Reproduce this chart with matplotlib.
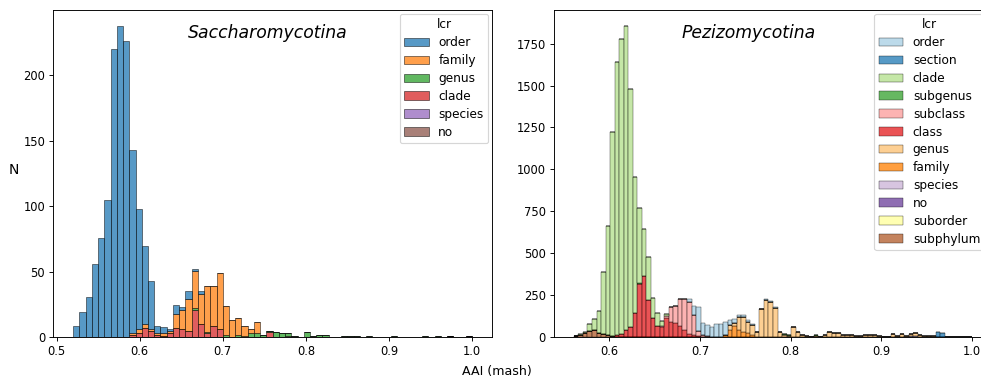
import matplotlib.pyplot as plt
import matplotlib.transforms as mtransforms
from matplotlib.patches import Patch
import numpy as np

# ---- Saccharomycotina: 64 bins, 0.52 .. 1.0  (counts per bin index) ----
sacch_edges = np.linspace(0.52, 1.0, 65)
sacch_levels = ["order", "family", "genus", "clade", "species", "no"]
sacch_colors = ["#1f77b4", "#ff7f0e", "#2ca02c", "#d62728", "#9467bd", "#8c564b"]
sacch_order = {0: 9, 1: 19, 2: 31, 3: 56, 4: 76, 5: 105, 6: 220, 7: 238, 8: 226,
               9: 140, 10: 92, 11: 60, 12: 37, 13: 6, 14: 5, 15: 1, 16: 7, 17: 2,
               18: 6, 19: 1, 20: 2}
sacch_family = {9: 1, 10: 3, 11: 3, 12: 1, 13: 1, 14: 2, 15: 2, 16: 11, 17: 15,
                18: 24, 19: 29, 20: 23, 21: 35, 22: 30, 23: 43, 24: 22, 25: 13,
                26: 13, 27: 8, 28: 3, 29: 9}
sacch_genus = {19: 1, 21: 1, 24: 2, 26: 2, 27: 1, 28: 3, 29: 3, 30: 2, 31: 1,
               32: 4, 33: 3, 34: 2, 35: 1, 37: 4, 38: 1, 39: 2, 40: 2, 43: 1,
               44: 1, 45: 1, 47: 1, 51: 1, 56: 1, 58: 1}
sacch_clade = {9: 2, 10: 3, 11: 7, 12: 5, 13: 2, 14: 1, 15: 3, 16: 7, 17: 6,
               18: 5, 19: 21, 20: 10, 21: 3, 22: 9, 23: 6, 31: 4, 34: 1}
sacch_species = {63: 1}
sacch_no = {60: 1}

# ---- Pezizomycotina: 88 bins, 0.561 .. 1.0 ----
pezi_edges = np.linspace(0.561, 1.0, 89)
pezi_levels = ["order", "section", "clade", "subgenus", "subclass", "class",
               "genus", "family", "species", "no", "suborder", "subphylum"]
pezi_colors = ["#a6cee3", "#1f78b4", "#b2df8a", "#33a02c", "#fb9a99", "#e31a1c",
               "#fdbf6f", "#ff7f00", "#cab2d6", "#6a3d9a", "#ffff99", "#b15928"]
pezi_order = {25: 16, 26: 54, 27: 143, 28: 69, 29: 66, 30: 60, 31: 80, 32: 80,
              33: 79, 34: 29, 35: 24, 36: 14, 37: 14, 38: 10, 39: 5, 40: 2,
              42: 4, 43: 6, 44: 3, 82: 4, 83: 4}
pezi_section = {80: 30, 81: 22}
pezi_clade = {1: 4, 2: 6, 3: 41, 4: 65, 5: 131, 6: 371, 7: 651, 8: 1215,
              9: 1624, 10: 1755, 11: 1813, 12: 1416, 13: 810, 14: 446, 15: 282,
              16: 259, 17: 119, 18: 75, 19: 29, 20: 10, 21: 5, 22: 2}
pezi_subgenus = {14: 5, 45: 4, 46: 4, 47: 6, 48: 4, 53: 4}
pezi_subclass = {19: 2, 20: 16, 21: 89, 22: 102, 23: 161, 24: 185, 25: 194,
                 26: 119, 27: 32, 28: 10, 29: 5, 30: 2}
pezi_class = {8: 2, 9: 14, 10: 20, 11: 44, 12: 64, 13: 147, 14: 318, 15: 365,
              16: 222, 17: 117, 18: 70, 19: 64, 20: 113, 21: 89, 22: 83, 23: 68,
              24: 44, 25: 18, 26: 14, 27: 8, 28: 4, 29: 2}
pezi_genus = {34: 30, 35: 15, 36: 75, 37: 85, 38: 69, 39: 58, 40: 28, 41: 165,
              42: 222, 43: 210, 44: 176, 45: 30, 46: 14, 47: 8, 48: 60, 49: 30,
              50: 16, 51: 8, 52: 4, 53: 8, 54: 4, 55: 14, 56: 34, 57: 28, 58: 28,
              59: 16, 60: 14, 61: 14, 62: 6, 63: 6, 64: 16, 65: 16, 66: 16, 67: 6,
              68: 4, 69: 4, 70: 18, 71: 6, 72: 18, 73: 4, 74: 10, 75: 16, 76: 12,
              77: 8, 78: 6, 79: 8, 80: 4, 81: 2}
pezi_family = {32: 2, 33: 14, 34: 44, 35: 68, 36: 44, 37: 34, 38: 24, 39: 14,
               40: 4, 41: 2, 42: 2}
pezi_species = {74: 10, 75: 8, 87: 1}
pezi_no = {73: 2}
pezi_suborder = {70: 1}
pezi_subphylum = {0: 8, 1: 14, 2: 24, 3: 38, 4: 42, 5: 28, 6: 20, 7: 14, 8: 6}

sacch_counts = [sacch_order, sacch_family, sacch_genus, sacch_clade,
                sacch_species, sacch_no]
pezi_counts = [pezi_order, pezi_section, pezi_clade, pezi_subgenus,
               pezi_subclass, pezi_class, pezi_genus, pezi_family,
               pezi_species, pezi_no, pezi_suborder, pezi_subphylum]


def expand(counts, n):
    arr = np.zeros(n)
    for i, c in counts.items():
        arr[i] = c
    return arr


def stacked_hist(ax, edges, levels, counts, colors, lw, title, leg_kw):
    n = len(edges) - 1
    widths = np.diff(edges)
    bottom = np.zeros(n)
    # first hue level ends up on top of the stack
    for cnt, col in zip(counts[::-1], colors[::-1]):
        h = expand(cnt, n)
        ax.bar(edges[:-1], h, width=widths, bottom=bottom, align="edge",
               color=col, alpha=0.75, edgecolor="black", linewidth=lw)
        bottom += h
    ax.set_ylim(0, bottom.max() * 1.05)
    handles = [Patch(facecolor=c, edgecolor="black", alpha=0.75, linewidth=lw)
               for c in colors]
    ax.legend(handles, levels, title="lcr", fontsize=10.5, title_fontsize=10.5,
              labelspacing=0.4, borderaxespad=0.3, **leg_kw)
    trans = mtransforms.blended_transform_factory(ax.transData, ax.transAxes)
    ax.text(0.754, 0.93, title, transform=trans, style="italic",
            ha="center", va="center", fontsize=15)


fig = plt.figure(figsize=(981 / 83, 381 / 83), dpi=83)
ax1 = fig.add_axes([0.0543, 0.1147, 0.4472, 0.859])
ax2 = fig.add_axes([0.5647, 0.1147, 0.4465, 0.859])

stacked_hist(ax1, sacch_edges, sacch_levels, sacch_counts, sacch_colors,
             0.54, "Saccharomycotina", {"loc": "upper right"})
stacked_hist(ax2, pezi_edges, pezi_levels, pezi_counts, pezi_colors,
             0.4, "Pezizomycotina",
             {"loc": "upper left", "bbox_to_anchor": (0.7226, 1.0)})

fig.text(14 / 981, 1 - 170 / 381, "N", ha="center", va="center", fontsize=12)
fig.text(497 / 981, 1 - 372 / 381, "AAI (mash)", ha="center", va="center",
         fontsize=11)

fig.savefig("out.png", dpi=83)
